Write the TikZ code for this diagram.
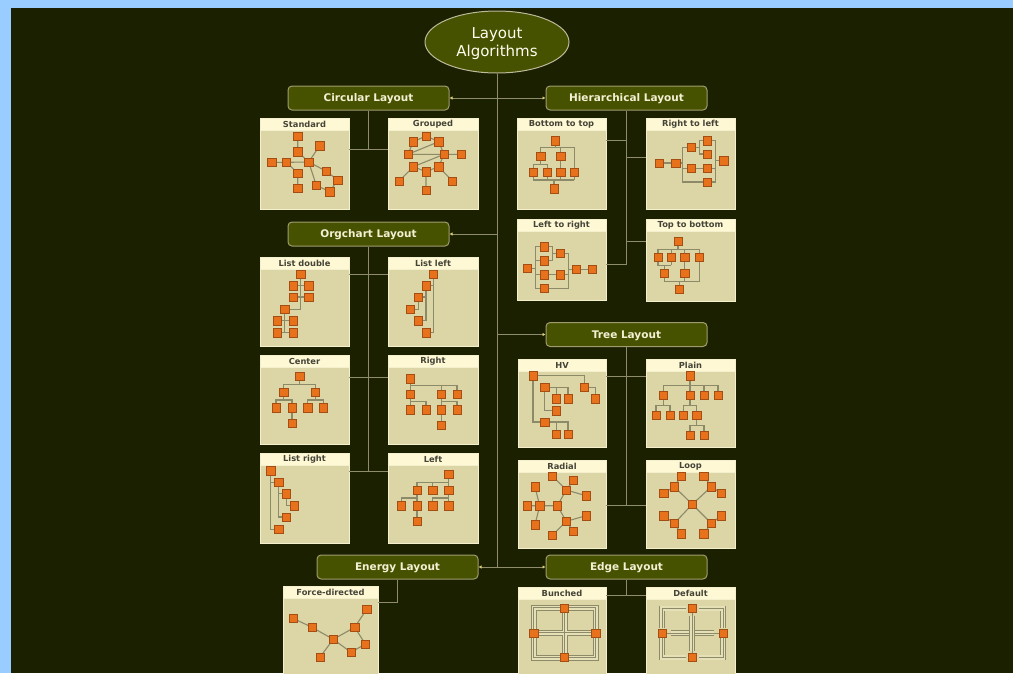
\documentclass[tikz,border=0pt]{standalone}
\usepackage{fontspec}
\setmainfont{DejaVu Sans}
\usetikzlibrary{arrows.meta,shapes.geometric,calc}
\definecolor{frameblue}{HTML}{99CCFF}
\definecolor{darkbg}{HTML}{1A2000}
\definecolor{olivefill}{HTML}{475200}
\definecolor{olivebd}{HTML}{A09C70}
\definecolor{cattext}{HTML}{F4F0D4}
\definecolor{wirecol}{HTML}{8E8C6A}
\definecolor{tipcol}{HTML}{D8D078}
\definecolor{headfill}{HTML}{FFF8D4}
\definecolor{bodyfill}{HTML}{DCD5A6}
\definecolor{panelbd}{HTML}{F4EFCC}
\definecolor{headtext}{HTML}{444438}
\definecolor{sqfill}{HTML}{E8721C}
\definecolor{sqbd}{HTML}{A24E14}
\definecolor{edgecol}{HTML}{8C8A68}
\definecolor{pipefill}{HTML}{E6E0B6}
\newcommand{\mkpts}[2]{\foreach \xx/\yy [count=\ii] in {#2} {\coordinate (#1\ii) at (\xx,\yy);}}
\newcommand{\sqat}[2]{\foreach \ii in {1,...,#2} {\node[sq] (#1sq\ii) at (#1\ii) {};}}
\newcommand{\panel}[6]{%
  \node[panelbox, minimum width=#4pt, minimum height=#5pt] (#1) at (#2,#3) {};
  \node[panelhead, minimum width=#4pt, anchor=north] (#1h) at (#1.north) {#6};}
\newcommand{\pipepath}[1]{\draw[pipe] #1; \draw[pipemid] #1;}
\begin{document}
\begin{tikzpicture}[x=1pt,y=-1pt,
  cat/.style={rectangle, rounded corners=4pt, draw=olivebd, fill=olivefill, line width=1pt,
    minimum width=161pt, minimum height=24pt, text=cattext, inner sep=0pt,
    text height=7.6pt, text depth=0pt,
    font=\bfseries\fontsize{10.5}{12}\selectfont},
  wire/.style={draw=wirecol, line width=1pt},
  wirearrow/.style={wire, -{Latex[length=3pt,width=3.5pt,color=tipcol]}},
  panelbox/.style={rectangle, fill=bodyfill, draw=panelbd, line width=0.8pt, inner sep=0pt},
  panelhead/.style={rectangle, fill=headfill, draw=panelbd, line width=0.8pt, inner sep=0pt,
    minimum height=12pt, text=headtext, font=\bfseries\fontsize{8.3}{9}\selectfont},
  sq/.style={rectangle, draw=sqbd, fill=sqfill, line width=0.6pt, minimum size=8.4pt, inner sep=0pt},
  ln/.style={draw=edgecol, line width=1.1pt},
  thin/.style={draw=edgecol, line width=0.8pt},
  pipe/.style={draw=edgecol, line width=0.8pt, double=pipefill, double distance=4.2pt},
  pipemid/.style={draw=edgecol, line width=0.6pt}]
\useasboundingbox (0,0) rectangle (1013,673);
\clip (0,0) rectangle (1013,673);
\fill[frameblue] (0,0) rectangle (1013,673);
\fill[darkbg] (11,8) rectangle (1013,673);

% root and categories
\node[ellipse, draw=olivebd!70!white, fill=olivefill, line width=1pt, minimum width=144pt,
  minimum height=62pt, inner sep=0pt] (root) at (497,42) {};
\node[text=white!94!yellow, align=center, inner sep=0pt,
  font=\fontsize{15}{18}\selectfont] (rootlabel) at (497,44) {Layout\\Algorithms};
\node[cat] (circ) at (368.5,98) {Circular Layout};
\node[cat] (hier) at (626.5,98) {Hierarchical Layout};
\node[cat] (org) at (368.5,234) {Orgchart Layout};
\node[cat] (tree) at (626.5,334.5) {Tree Layout};
\node[cat] (energy) at (397.5,567) {Energy Layout};
\node[cat] (edge) at (626.5,567) {Edge Layout};

\coordinate (tb) at (497,567);
\draw[wire] (root.south) -- (tb);
\draw[wirearrow] (root.south |- circ.east) -- (circ.east);
\draw[wirearrow] (root.south |- hier.west) -- (hier.west);
\draw[wirearrow] (root.south |- org.east) -- (org.east);
\draw[wirearrow] (root.south |- tree.west) -- (tree.west);
\draw[wirearrow] (tb) -- (energy.east);
\draw[wirearrow] (tb) -- (edge.west);

% panels
\panel{std}{304.5}{163.5}{89}{91}{Standard}
\panel{grp}{433}{163.5}{90}{91}{Grouped}
\panel{btt}{561.5}{163.5}{89}{91}{Bottom to top}
\panel{rtl}{690.5}{163.5}{89}{91}{Right to left}
\panel{ltr}{561.5}{259.5}{89}{81}{Left to right}
\panel{ttb}{690.5}{260}{89}{82}{Top to bottom}
\panel{ld}{304.5}{301.5}{89}{89}{List double}
\panel{ll}{433}{301.5}{90}{89}{List left}
\panel{cen}{304.5}{399.5}{89}{89}{Center}
\panel{rgt}{433}{399.5}{90}{89}{Right}
\panel{lr}{304.5}{498}{89}{90}{List right}
\panel{lft}{433}{498}{90}{90}{Left}
\panel{hv}{562}{403}{88}{88}{HV}
\panel{pln}{690.5}{403}{89}{88}{Plain}
\panel{rad}{562}{504}{88}{88}{Radial}
\panel{lp}{690.5}{504}{89}{88}{Loop}
\panel{fd}{330.5}{643}{95}{114}{Force-directed}
\panel{bun}{562}{643.5}{88}{113}{Bunched}
\panel{def}{690.5}{643.5}{89}{113}{Default}

% sub connectors
\coordinate (cj) at (368.5,149);
\draw[wire] (circ.south) -- (cj);
\draw[wire] (std.east |- cj) -- (grp.west |- cj);
\coordinate (h1) at (626.5,140); \coordinate (h2) at (626.5,157);
\coordinate (h3) at (626.5,241); \coordinate (h4) at (626.5,264);
\draw[wire] (hier.south) -- (h4);
\draw[wire] (btt.east |- h1) -- (h1);
\draw[wire] (h2) -- (rtl.west |- h2);
\draw[wire] (h3) -- (ttb.west |- h3);
\draw[wire] (ltr.east |- h4) -- (h4);
\coordinate (o1) at (368.5,274); \coordinate (o2) at (368.5,377); \coordinate (o3) at (368.5,471);
\draw[wire] (org.south) -- (o3);
\draw[wire] (ld.east |- o1) -- (ll.west |- o1);
\draw[wire] (cen.east |- o2) -- (rgt.west |- o2);
\draw[wire] (lr.east |- o3) -- (lft.west |- o3);
\coordinate (t1) at (626.5,376); \coordinate (t2) at (626.5,505);
\draw[wire] (tree.south) -- (t2);
\draw[wire] (hv.east |- t1) -- (pln.west |- t1);
\draw[wire] (rad.east |- t2) -- (lp.west |- t2);
\coordinate (e1) at (397.5,602);
\draw[wire] (energy.south) -- (e1) -- (fd.east |- e1);
\coordinate (g1) at (626.5,595);
\draw[wire] (edge.south) -- (g1);
\draw[wire] (bun.east |- g1) -- (def.west |- g1);

% ---- Standard
\mkpts{s}{297.7/136, 319.7/145.7, 297.7/151.7, 271.7/162.3, 286.3/162.3, 308.7/162, 297.7/173, 326/171, 337.7/180, 297.7/188.3, 316.3/185.3, 329.7/191.7}
\draw[ln] (s1)--(s3)--(s6)--(s2) (s4)--(s5)--(s6) (s5)--(s7)--(s10) (s6)--(s8)--(s9)--(s12)--(s11)--(s6);
\sqat{s}{12}
% ---- Grouped
\mkpts{g}{426/136, 413.3/141.7, 438.7/141.7, 408/154.3, 444/154.3, 461.3/154.3, 413.3/166.7, 438.7/166.7, 426/171.7, 399.3/181, 426/190, 452.3/181}
\draw[ln] (g2)--(g1)--(g3)--(g5)--(g4)--(g2) (g4)--(g3) (g5)--(g6) (g5)--(g7)--(g9)--(g8)--(g5) (g7)--(g10) (g9)--(g11) (g8)--(g12);
\sqat{g}{12}
% ---- Bottom to top
\mkpts{b}{555.3/140.7, 540.7/156.3, 560.7/156.3, 533.3/172.3, 547.3/172.3, 560.7/172.3, 574.3/172.3, 554/188.7}
\draw[ln] (555.3,140.7)--(555.3,147.7) (540.7,164.3)--(540.7,147.7)--(574.3,147.7)--(574.3,180) (560.7,147.7)--(560.7,180)
  (533.3,180)--(533.3,164.3)--(547.3,164.3)--(547.3,180) (533.3,180)--(574.3,180) (554,180)--(554,188.7);
\sqat{b}{8}
% ---- Right to left
\mkpts{r}{659.3/163, 675.7/163, 691.3/147.3, 707.3/140.7, 707.3/154, 723.7/160.7, 691.3/168.3, 707.3/168.3, 707.3/182}
\draw[ln] (659.3,163)--(682.7,163) (691.3,147.3)--(682.7,147.3)--(682.7,182)--(707.3,182) (682.7,168.3)--(707.3,168.3)
  (691.3,147.3)--(699.3,147.3) (707.3,140.7)--(699.3,140.7)--(699.3,154)--(707.3,154)
  (707.3,140.7)--(715.7,140.7)--(715.7,182)--(707.3,182) (707.3,168.3)--(715.7,168.3) (715.7,160.7)--(723.7,160.7);
\sqat{r}{9}
% ---- Left to right
\mkpts{l}{527.3/268.3, 544/246.7, 544/260.7, 560/253.3, 544/274.7, 560/274.7, 544/288.3, 576.3/269.3, 592.3/269.3}
\draw[ln] (527.3,268.3)--(535.7,268.3) (544,246.7)--(535.7,246.7)--(535.7,288.3)--(568.3,288.3)--(568.3,253.3)--(560,253.3)
  (535.7,260.7)--(544,260.7) (535.7,274.7)--(560,274.7)--(568.3,274.7)
  (544,246.7)--(552.3,246.7)--(552.3,260.7)--(544,260.7) (552.3,253.3)--(560,253.3) (568.3,269.3)--(592.3,269.3);
\sqat{l}{9}
% ---- Top to bottom
\mkpts{t}{678/241.3, 658/257.3, 671.3/257.3, 684.7/257.3, 699.3/257.3, 664.3/273.3, 684.7/273.3, 679.3/289.3}
\draw[ln] (678,241.3)--(678,249.3) (658,257.3)--(658,249.3)--(699.3,249.3)--(699.3,281.7) (671.3,249.3)--(671.3,265.3) (684.7,249.3)--(684.7,281.7)
  (658,257.3)--(658,265.3)--(671.3,265.3) (664.3,265.3)--(664.3,281.7)--(699.3,281.7) (679.3,281.7)--(679.3,289.3);
\sqat{t}{8}
% ---- List double
\mkpts{d}{300.7/274, 293/285.7, 308.7/285.7, 293/297, 308.7/297, 284.7/309.3, 277/320.7, 293/320.7, 277/332.7, 293/332.7}
\draw[ln] (300.7,274)--(300.7,309.3)--(284.7,309.3)--(284.7,332.7) (293,285.7)--(308.7,285.7) (293,297)--(308.7,297)
  (277,320.7)--(293,320.7) (277,332.7)--(293,332.7);
\sqat{d}{10}
% ---- List left
\mkpts{k}{433.3/274, 426/285.7, 418.3/297, 410.3/309.3, 418.3/320.7, 426/332.7}
\draw[ln] (433.3,274)--(433.3,332.7)--(426,332.7) (433.3,285.7)--(426,285.7)--(426,320.7)--(418.3,320.7)
  (426,297)--(418.3,297)--(418.3,309.3)--(410.3,309.3);
\sqat{k}{6}
% ---- Center
\mkpts{c}{299.7/376.3, 283.7/392, 315.3/392, 276/407.7, 292/407.7, 307.7/407.7, 323.3/407.7, 292/423.3}
\draw[ln] (299.7,376.3)--(299.7,384.3) (283.7,400)--(283.7,384.3)--(315.3,384.3)--(315.3,400)
  (276,407.7)--(276,400)--(292,400)--(292,423.3) (307.7,407.7)--(307.7,400)--(323.3,400)--(323.3,407.7);
\sqat{c}{8}
% ---- Right
\mkpts{q}{410.3/378.7, 410.3/394.3, 441.3/394.3, 457/394.3, 410.3/409.7, 426/409.7, 441.3/409.7, 457/409.7, 441.3/425.3}
\draw[ln] (410.3,378.7)--(410.3,409.7) (410.3,385.7)--(457,385.7)--(457,394.3) (441.3,385.7)--(441.3,425.3)
  (410.3,401.7)--(426,401.7)--(426,409.7) (441.3,401.7)--(457,401.7)--(457,409.7);
\sqat{q}{9}
% ---- List right
\mkpts{m}{270.7/470.7, 278.7/482.3, 286.3/493.7, 294.3/505.7, 286.3/517, 278.7/529.3}
\draw[ln] (270.7,470.7)--(270.7,529.3)--(278.7,529.3) (270.7,482.3)--(278.7,482.3)--(278.7,517)--(286.3,517)
  (278.7,493.7)--(286.3,493.7)--(286.3,505.7)--(294.3,505.7);
\sqat{m}{6}
% ---- Left
\mkpts{n}{448.7/474.3, 417/490, 432.7/490, 448.7/490, 401.3/505.7, 417/505.7, 432.7/505.7, 448.7/505.7, 417/521.3}
\draw[ln] (448.7,474.3)--(448.7,505.7) (417,490)--(417,482.3)--(448.7,482.3) (432.7,482.3)--(432.7,490) (417,490)--(417,521.3)
  (401.3,505.7)--(401.3,498)--(417,498) (432.7,505.7)--(432.7,498)--(448.7,498);
\sqat{n}{9}
% ---- HV
\mkpts{h}{533/375.7, 544.7/387.3, 584.3/387.3, 556.3/398.7, 568/398.7, 595.3/398.7, 556.3/410.7, 544.7/422, 556.3/434.3, 568/434.3}
\draw[ln] (584.3,387.3)--(584.3,375.7)--(533,375.7)--(533,422)--(544.7,422) (544.7,387.3)--(544.7,410.7)--(556.3,410.7)
  (544.7,387.3)--(568,387.3)--(568,398.7) (556.3,387.3)--(556.3,398.7) (584.3,387.3)--(595.3,387.3)--(595.3,398.7)
  (544.7,422)--(568,422)--(568,434.3) (556.3,422)--(556.3,434.3);
\sqat{h}{10}
% ---- Plain
\mkpts{a}{690/375.7, 663.3/395.3, 690/395.3, 704/395.3, 718/395.3, 656/415.3, 670/415.3, 683.3/415.3, 696.7/415.3, 690/435, 704/435}
\draw[ln] (690,375.7)--(690,405.3) (663.3,395.3)--(663.3,385.7)--(718,385.7)--(718,395.3) (704,385.7)--(704,395.3)
  (663.3,395.3)--(663.3,405.3) (656,415.3)--(656,405.3)--(670,405.3)--(670,415.3)
  (683.3,415.3)--(683.3,405.3)--(696.7,405.3)--(696.7,425.3) (690,435)--(690,425.3)--(704,425.3)--(704,435);
\sqat{a}{11}
% ---- Radial
\mkpts{w}{552.3/476, 573.3/480.3, 535/486.7, 566.3/490, 586/495.7, 527.3/505.7, 539.7/505.7, 557.3/505.7, 586/515.7, 566.3/521.3, 535/524.7, 573.3/531.3, 552.3/535.3}
\draw[ln] (w6)--(w7)--(w8) (w7)--(w3) (w7)--(w11) (w8)--(w4)--(w1) (w4)--(w2) (w4)--(w5)
  (w8)--(w10)--(w9) (w10)--(w12) (w10)--(w13);
\sqat{w}{13}
% ---- Loop
\mkpts{p}{692.3/504.3, 681/476, 703.7/476, 674.3/486.7, 711.3/486.7, 663.7/493.3, 721.3/493.3, 663.7/515.7, 721.3/515.7, 674.3/523.3, 711.3/523.3, 681/533.7, 703.7/533.7}
\draw[ln] (p1)--(p4)--(p2) (p4)--(p6) (p1)--(p5)--(p3) (p5)--(p7) (p1)--(p10)--(p8) (p10)--(p12) (p1)--(p11)--(p9) (p11)--(p13);
\sqat{p}{13}
% ---- Force-directed
\mkpts{f}{293/618.3, 312/627.3, 333.3/639.3, 354.7/627.3, 366.7/609.3, 365.3/644, 351/652.3, 320/657}
\draw[ln] (f1)--(f2)--(f3)--(f4)--(f5) (f4)--(f6)--(f7)--(f3)--(f8);
\sqat{f}{8}
% ---- Bunched
\draw[thin, fill=pipefill] (531,605.3) rectangle (598.3,660);
\draw[thin, fill=bodyfill] (536,610.3) rectangle (562,630.2);
\draw[thin, fill=bodyfill] (567,610.3) rectangle (593.3,630.2);
\draw[thin, fill=bodyfill] (536,635.2) rectangle (562,655);
\draw[thin, fill=bodyfill] (567,635.2) rectangle (593.3,655);
\draw[thin] (533.5,607.8) rectangle (595.8,657.5);
\draw[thin] (564.5,607.8)--(564.5,657.5) (533.5,632.7)--(595.8,632.7);
\mkpts{u}{564.3/608.3, 533.7/633, 595.7/633, 564.3/657}
\sqat{u}{4}
% ---- Default
\mkpts{v}{692.3/608.5, 662.3/633, 723.3/633, 692.3/657.5}
\draw[thin] (v1)--(692.3,615.7) (v2)--(671,633) (v3)--(714.3,633) (v4)--(692.3,651);
\pipepath{(662.3,628.3)--(662.3,608.5)--(686,608.5)}
\pipepath{(699,608.5)--(723.3,608.5)--(723.3,628.3)}
\pipepath{(662.3,637.7)--(662.3,657.5)--(686,657.5)}
\pipepath{(699,657.5)--(723.3,657.5)--(723.3,637.7)}
\pipepath{(671,633)--(714.3,633)}
\pipepath{(692.3,615.7)--(692.3,651)}
\sqat{v}{4}
\end{tikzpicture}
\end{document}
